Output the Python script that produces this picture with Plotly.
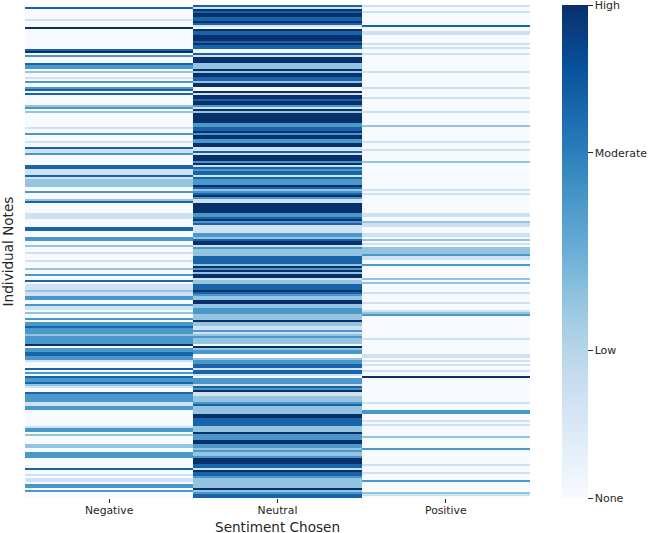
import plotly.graph_objects as go

categories = ["Negative", "Neutral", "Positive"]
levels = [0.0, 0.2, 0.4, 0.6, 0.8, 1.0]
tick_values = [0.0, 0.3, 0.7, 1.0]
tick_labels = ["None", "Low", "Moderate", "High"]

# (level index, number of consecutive notes), top note first
negative_runs = [
    (0,1),(4,1),(0,5),(1,1),(0,3),(5,1),(0,10),(4,1),(5,1),(0,1),(3,1),(0,3),(4,1),(3,2),(0,1),(2,1),
    (0,2),(1,1),(0,1),(3,1),(0,2),(3,1),(4,1),(0,1),(4,1),(0,5),(2,1),(3,1),(0,1),(2,1),(0,7),(1,1),
    (0,2),(3,1),(0,3),(1,1),(0,2),(4,1),(1,2),(3,1),(0,5),(4,2),(1,3),(4,1),(1,1),(2,4),(0,2),(3,1),
    (0,3),(2,1),(4,1),(0,5),(1,3),(0,4),(4,2),(0,3),(3,2),(0,2),(2,1),(0,2),(1,1),(0,3),(1,1),(0,3),
    (2,1),(0,2),(3,1),(0,2),(4,1),(0,1),(1,3),(2,1),(1,2),(3,2),(0,2),(3,1),(1,2),(0,1),(2,1),(0,2),
    (3,1),(0,1),(3,2),(4,1),(3,3),(2,1),(3,4),(5,1),(0,1),(3,2),(4,2),(3,2),(1,1),(0,3),(4,1),(0,1),
    (3,1),(0,1),(4,1),(3,2),(4,1),(2,1),(1,1),(0,2),(4,1),(3,4),(1,2),(3,2),(0,8),(1,1),(3,2),
    (0,1),(2,1),(0,4),(2,2),(0,2),(3,3),(0,5),(4,1),(0,2),(1,1),(0,1),(1,2),(0,1),(3,2),(0,1),(3,1),(0,3),
]
neutral_runs = [
    (4,1),(1,1),(5,1),(4,1),(5,2),(4,2),(5,1),(4,1),(1,1),(0,1),(5,1),(4,2),(5,3),(4,1),(5,1),(4,2),
    (0,2),(4,1),(1,1),(5,3),(2,3),(5,1),(2,1),(5,2),(4,2),(2,1),(5,2),(0,2),(5,1),(1,1),(5,2),(4,1),
    (5,2),(3,1),(1,1),(5,1),(2,1),(5,5),(3,2),(4,2),(5,1),(3,1),(5,2),(3,2),(5,2),(1,2),(4,1),(1,1),
    (5,3),(3,1),(5,1),(1,1),(4,1),(3,1),(4,2),(1,1),(4,1),(3,3),(5,1),(4,1),(2,1),(3,1),(4,1),(5,1),
    (3,1),(1,2),(5,5),(3,2),(4,1),(5,1),(3,1),(4,1),(1,4),(3,2),(2,1),(4,1),(5,2),(1,1),(3,1),(2,3),
    (4,4),(2,1),(5,1),(3,1),(5,1),(2,1),(5,2),(1,1),(2,2),(4,3),(5,1),(4,1),(3,1),(2,2),(5,2),(2,2),
    (3,3),(2,3),(5,1),(2,2),(1,2),(3,1),(1,1),(2,1),(3,1),(2,3),(0,1),(5,1),(2,1),(3,2),(0,2),(2,1),
    (3,2),(4,2),(1,1),(4,2),(1,1),(0,1),(3,3),(1,1),(4,1),(3,1),(5,1),(1,2),(2,3),(3,1),(4,1),(2,4),
    (5,2),(4,4),(2,3),(5,1),(3,3),(5,2),(3,2),(2,1),(3,1),(2,2),(3,1),(5,3),(4,2),(1,1),(5,1),(4,2),
    (3,1),(2,5),(5,1),(2,1),(3,1),(4,2),
]
positive_runs = [
    (1,1),(0,2),(1,1),(0,6),(4,1),(0,2),(1,2),(0,4),(1,1),(0,1),(1,1),(0,2),(1,1),(0,8),(1,1),(0,7),
    (1,1),(0,4),(1,1),(0,6),(1,1),(0,6),(2,1),(0,7),(1,1),(0,3),(1,1),(0,5),(2,1),(0,13),(1,1),(0,1),
    (1,1),(0,9),(1,2),(0,2),(2,1),(1,2),(0,3),(1,2),(0,1),(2,1),(0,1),(1,1),(0,1),(2,3),(3,1),(1,2),
    (0,2),(3,1),(0,6),(2,1),(0,1),(2,1),(0,4),(1,1),(0,4),(1,1),(0,3),(1,1),(2,1),(3,1),(0,11),(1,1),
    (0,7),(1,2),(0,1),(1,1),(0,1),(1,1),(0,2),(1,1),(0,2),(5,1),(0,12),(1,1),(0,3),(3,2),(0,3),(1,1),
    (0,1),(1,1),(0,5),(2,1),(0,5),(3,1),(0,7),(1,1),(0,3),(1,1),(0,3),(3,1),(0,5),(2,1),(1,1),(0,1),
]


def expand(runs):
    out = []
    for level, count in runs:
        out += [levels[level]] * count
    return out


negative = expand(negative_runs)
neutral = expand(neutral_runs)
positive = expand(positive_runs)
n = min(len(negative), len(neutral), len(positive))
rows = [[negative[i], neutral[i], positive[i]] for i in range(n)]

blues = [[0.0, "#f7fbff"], [0.125, "#deebf7"], [0.25, "#c6dbef"], [0.375, "#9ecae1"], [0.5, "#6baed6"],
         [0.625, "#4292c6"], [0.75, "#2171b5"], [0.875, "#08519c"], [1.0, "#08306b"]]
ink = "#262626"
font = "DejaVu Sans"

fig = go.Figure(go.Heatmap(
    z=rows, x=categories, y=list(range(n)), colorscale=blues, zmin=0, zmax=1,
    colorbar=dict(
        x=1.063, xanchor="left", xpad=0, y=0, yanchor="bottom", ypad=0, len=1, lenmode="fraction",
        thickness=26, thicknessmode="pixels", outlinewidth=0,
        tickmode="array", tickvals=tick_values, ticktext=tick_labels,
        ticks="outside", ticklen=5, tickwidth=1, tickcolor=ink,
        tickfont=dict(family=font, size=11, color=ink),
        ticklabeloverflow="allow",
    ),
))
fig.update_layout(
    width=649, height=533, autosize=False,
    margin=dict(l=25, r=119, t=5, b=35, autoexpand=False),
    paper_bgcolor="white", plot_bgcolor="white",
    font=dict(family=font, color=ink),
    annotations=[dict(text="Sentiment Chosen", xref="paper", yref="paper", x=0.5, y=0,
                      xanchor="center", yanchor="top", yshift=-19, showarrow=False,
                      font=dict(family=font, size=13.6, color=ink))],
)
fig.update_xaxes(
    automargin=False,
    ticks="outside", ticklen=4, tickwidth=1, tickcolor=ink, showgrid=False, zeroline=False,
    tickfont=dict(family=font, size=10.8, color=ink), ticklabelstandoff=-2,
)
fig.update_yaxes(
    automargin=False,
    autorange="reversed", showticklabels=False, ticks="", showgrid=False, zeroline=False,
    title=dict(text="Individual Notes", font=dict(family=font, size=13.6, color=ink), standoff=8),
)
fig.write_html("out.html", post_script="document.body.style.margin='0';",
               config={"displayModeBar": False})
